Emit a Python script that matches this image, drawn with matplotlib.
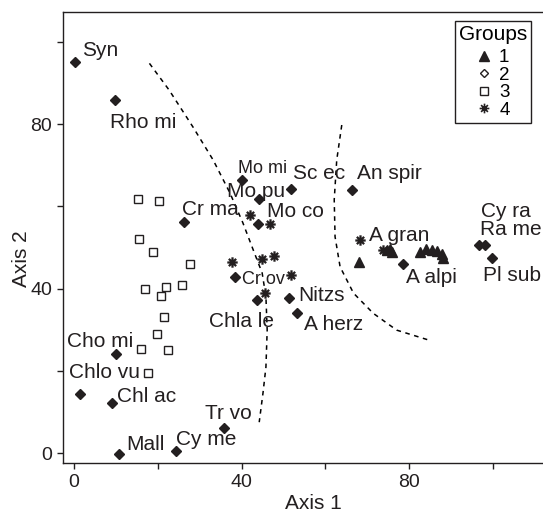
import matplotlib
matplotlib.use('Agg')
import matplotlib.pyplot as plt
from matplotlib.path import Path
from matplotlib.lines import Line2D

plt.rcParams['font.family'] = ['Liberation Sans', 'DejaVu Sans']
INK = '#231f20'

# group 1 - triangles
g1_x = [68.0, 74.6, 75.3, 75.9, 82.6, 84.0, 85.4, 86.6, 87.8, 88.0]
g1_y = [46.5, 49.3, 49.6, 49.0, 49.0, 49.6, 49.4, 49.2, 48.3, 47.4]

# group 2 - labelled taxa (diamonds)
g2_names = ['Syn', 'Rho mi', 'Mo mi', 'Sc ec', 'An spir', 'Mo pu', 'Cr ma', 'Mo co',
            'Cr ov', 'Chla le', 'Nitzs', 'A herz', 'A alpi', 'Cy ra', 'Ra me', 'Pl sub',
            'Cho mi', 'Chlo vu', 'Chl ac', 'Mall', 'Cy me', 'Tr vo']
g2_x = [0.2, 9.8, 40.0, 51.8, 66.3, 44.2, 26.3, 44.0, 38.4, 43.7, 51.3, 53.2, 78.5,
        96.7, 98.2, 99.8, 10.0, 1.4, 9.1, 10.8, 24.3, 35.8]
g2_y = [95.1, 85.9, 66.4, 64.2, 64.0, 61.8, 56.3, 55.7, 42.8, 37.2, 37.7, 34.1, 46.0,
        50.6, 50.6, 47.4, 24.1, 14.4, 12.2, -0.2, 0.5, 6.1]

# group 3 - squares
g3_x = [15.2, 20.3, 15.6, 18.9, 27.7, 17.0, 22.0, 20.8, 25.7, 21.4, 19.8, 16.0, 22.4, 17.7]
g3_y = [61.7, 61.4, 52.1, 49.0, 45.9, 39.9, 40.5, 38.3, 40.8, 33.2, 29.0, 25.3, 25.1, 19.4]

# group 4 - asterisks
g4_x = [42.0, 46.8, 44.9, 47.7, 37.7, 51.8, 45.6, 68.3, 73.7]
g4_y = [57.9, 55.7, 47.2, 47.9, 46.5, 43.3, 38.9, 51.8, 49.5]

# dashed group boundaries
left_x = [18.0, 22.7, 28.4, 33.2, 37.2, 40.3, 42.7, 44.9, 45.8, 46.1, 45.8, 45.1, 44.2]
left_y = [94.8, 88.3, 79.3, 71.3, 63.3, 56.0, 49.6, 43.8, 38.0, 29.9, 20.9, 14.6, 7.5]
right_x = [63.9, 62.7, 62.1, 62.3, 63.5, 66.7, 71.4, 77.0, 84.6]
right_y = [79.8, 71.3, 61.6, 52.6, 45.3, 38.9, 34.0, 29.9, 27.5]

# label offsets (pixels, right / up) relative to each diamond
label_off = {
    'Syn': (7, 6), 'Rho mi': (-5, -28), 'Mo mi': (-4, 7), 'Sc ec': (2, 10),
    'An spir': (5, 11), 'Mo pu': (-32, 2), 'Cr ma': (-2, 7), 'Mo co': (9, 7),
    'Cr ov': (7, -7), 'Chla le': (-48, -27), 'Nitzs': (9, -3), 'A herz': (7, -17),
    'A alpi': (3, -19), 'Cy ra': (2, 28), 'Ra me': (-5, 10), 'Pl sub': (-9, -23),
    'Cho mi': (-49, 7), 'Chlo vu': (-11, 16), 'Chl ac': (5, 1), 'Mall': (7, 4),
    'Cy me': (0, 6), 'Tr vo': (-19, 9),
}
small_labels = ['Mo mi', 'Cr ov']

star = Path([(-1, 0), (1, 0), (0, -1), (0, 1), (-0.7, -0.7), (0.7, 0.7), (-0.7, 0.7), (0.7, -0.7)],
            [Path.MOVETO, Path.LINETO] * 4)

fig = plt.figure(figsize=(5.43, 5.14), dpi=100)
ax = fig.add_axes([63 / 543, 51 / 514, 484.5 / 543, 451 / 514])
ax.set_xlim(-2.63, 113)
ax.set_ylim(-2.43, 107.3)

ax.plot(left_x, left_y, color='k', lw=1.1, linestyle=(0, (3, 3)))
ax.plot(right_x, right_y, color='k', lw=1.1, linestyle=(0, (3, 3)))

ax.plot(g3_x, g3_y, 's', ms=6, mfc='white', mec=INK, mew=1.0, ls='none')
ax.plot(g4_x, g4_y, marker=star, ms=7.5, mec=INK, mew=1.6, ls='none')
ax.plot(g1_x, g1_y, '^', ms=7.5, color=INK, ls='none')
ax.plot(g2_x, g2_y, 'D', ms=5, color=INK, ls='none')

for name, x, y in zip(g2_names, g2_x, g2_y):
    dx, dy = label_off[name]
    fs = 13 if name in small_labels else 15
    ax.annotate(name, (x, y), xytext=(dx * 0.72, dy * 0.72), textcoords='offset points',
                ha='left', va='baseline', fontsize=fs, color=INK)
ax.annotate('A gran', (g4_x[7], g4_y[7]), xytext=(9 * 0.72, -0.7 * 0.72),
            textcoords='offset points', ha='left', va='baseline', fontsize=15, color=INK)

ax.set_xticks([0, 20, 40, 60, 80, 100])
ax.set_xticklabels(['0', '', '40', '', '80', ''])
ax.set_yticks([0, 20, 40, 60, 80, 100])
ax.set_yticklabels(['0', '', '40', '', '80', ''])
ax.tick_params(direction='out', length=4.5, width=1, colors=INK, labelsize=14, pad=3.5)
for side in ['left', 'bottom', 'top']:
    ax.spines[side].set_color(INK)
    ax.spines[side].set_linewidth(1)
ax.spines['right'].set_visible(False)

ax.set_xlabel('Axis 1', fontsize=15, color=INK)
ax.xaxis.set_label_coords(0.516, -0.069)
ax.set_ylabel('Axis 2', fontsize=15, color=INK)
ax.yaxis.set_label_coords(-0.066, 0.452)

handles = [
    Line2D([], [], marker='^', ms=7, color=INK, ls='none'),
    Line2D([], [], marker='D', ms=4.5, mfc='white', mec=INK, mew=1, ls='none'),
    Line2D([], [], marker='s', ms=6, mfc='white', mec=INK, mew=1, ls='none'),
    Line2D([], [], marker=star, ms=7, mec=INK, mew=1.2, ls='none'),
]
leg = fig.legend(handles, ['1', '2', '3', '4'], title='Groups', loc='upper right',
                 bbox_to_anchor=(531 / 543, 1 - 21 / 514), fontsize=13.5, title_fontsize=15,
                 labelspacing=0.02, handlelength=0.8, handletextpad=0.4, borderpad=0.2,
                 borderaxespad=0, fancybox=False, framealpha=1, edgecolor=INK)
leg.get_frame().set_linewidth(1)
# a little gap under the title
leg._legend_box.sep = 4

fig.savefig('out.png', dpi=100)
